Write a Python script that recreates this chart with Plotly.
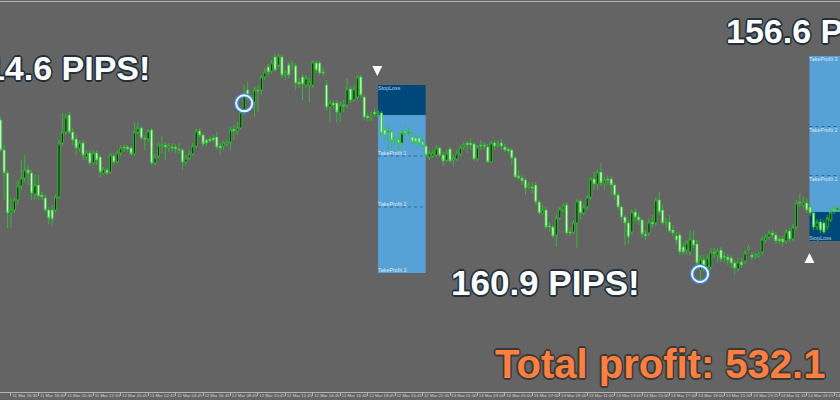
import plotly.graph_objects as go

# ---------------- OHLC data (M15 bars, price in pips above a base level) ----------------
bar_open = [280,250,227,187,190,200,214,222,230,227,206,215,205,202,190,190,190,203,257,268,
            285,268,261,252,257,243,247,237,247,243,227,230,228,244,238,247,253,253,252,246,
            268,272,262,261,270,237,244,254,255,252,253,253,251,250,238,242,246,254,269,265,
            260,261,262,263,254,254,256,258,271,269,272,288,310,302,298,310,310,323,333,329,
            343,335,343,325,335,335,334,318,323,315,315,315,337,337,328,315,293,297,297,287,
            295,295,311,300,303,323,303,284,282,288,286,287,270,268,268,261,260,257,269,267,
            263,262,262,258,254,243,244,245,252,245,240,251,240,241,246,253,257,257,256,241,
            255,255,253,238,257,254,257,253,251,250,242,224,222,220,213,213,215,198,187,190,
            174,173,165,182,191,195,168,168,177,199,187,193,203,221,216,228,217,221,221,215,
            205,193,183,177,168,188,183,180,166,167,178,177,200,190,177,178,170,164,165,153,
            150,148,160,156,130,140,133,133,148,145,150,144,143,142,137,131,138,139,151,145,
            143,144,148,160,163,167,165,161,161,159,169,161,173,198,195,197,193,187,173,178,
            177,173,180,191,190]
bar_high = [283,255,230,202,203,220,240,245,235,230,225,225,208,206,193,195,205,260,287,287,
            288,272,265,260,260,250,250,250,250,245,233,232,247,246,250,255,256,255,254,277,
            278,274,265,271,272,246,258,264,258,257,257,256,257,252,245,250,257,271,272,267,
            262,263,265,268,257,259,261,273,275,278,291,315,318,305,313,315,325,332,336,340,
            346,347,345,330,338,340,337,322,326,325,322,340,340,339,332,320,300,300,300,298,
            300,322,314,315,325,325,305,287,288,292,290,289,273,275,271,264,268,270,275,272,
            269,265,265,261,257,250,250,255,254,248,250,253,245,250,255,258,259,262,258,255,
            260,258,256,259,259,260,261,256,253,252,244,230,225,222,218,218,218,200,195,193,
            178,175,185,193,197,198,172,180,201,201,196,205,223,228,230,237,223,224,224,217,
            207,195,185,180,191,192,187,182,170,182,185,203,208,195,182,185,175,168,168,157,
            160,170,170,160,145,145,146,152,152,152,153,148,146,145,140,142,142,150,155,148,
            147,148,163,166,170,170,168,164,164,171,172,176,200,207,204,202,197,190,181,181,
            180,185,192,194,195]
bar_low = [248,200,172,172,187,195,210,218,215,200,200,200,200,188,176,174,187,201,254,265,
           266,255,245,248,240,240,234,235,235,223,225,225,226,235,236,244,248,248,244,244,
           266,260,250,258,235,234,242,247,240,248,248,247,246,230,235,240,244,252,263,253,
           254,257,258,251,245,250,253,250,260,265,270,285,300,290,283,288,305,320,325,326,
           328,333,322,320,322,330,310,312,300,312,297,312,327,325,324,290,277,292,278,278,
           288,292,297,298,300,302,280,279,279,283,283,264,260,250,250,255,248,250,264,264,
           255,255,254,252,242,240,242,242,243,234,238,237,233,239,244,250,247,250,239,238,
           250,251,237,237,250,252,250,248,247,235,222,220,215,205,211,207,195,185,185,171,
           168,162,153,180,188,165,164,166,152,180,185,190,200,210,210,214,210,215,205,200,
           190,180,155,156,165,178,175,162,160,164,172,174,185,175,172,167,164,155,145,145,
           145,144,152,135,118,128,130,130,142,138,138,138,135,132,125,128,132,136,149,140,
           141,142,145,157,160,162,156,156,153,156,158,158,170,193,192,187,184,170,170,167,
           166,170,178,186,188]
bar_close = [250,227,187,190,200,214,222,230,227,207,215,204,203,190,182,181,203,257,268,283,
             268,260,252,257,245,247,237,247,240,228,231,227,245,238,247,252,252,251,246,268,
             272,262,261,269,237,243,255,255,253,254,252,251,250,238,242,246,254,269,265,256,
             257,259,260,253,252,257,258,270,269,272,288,307,302,298,310,309,323,328,328,337,
             330,344,325,327,325,336,317,316,316,322,318,338,330,327,327,293,297,295,288,295,
             294,311,300,311,323,305,283,282,284,286,288,267,265,269,260,260,257,267,267,268,
             258,258,257,255,245,247,247,252,245,239,247,239,242,247,252,255,255,255,241,253,
             254,254,238,257,254,256,254,250,249,242,223,222,219,212,215,212,198,187,190,173,
             173,164,182,191,194,167,167,177,199,187,193,203,221,216,228,217,220,220,215,205,
             193,183,177,163,188,183,180,166,164,178,176,200,188,177,178,169,167,160,148,148,
             157,161,155,137,141,133,142,148,147,149,141,143,140,137,132,138,135,147,153,143,
             145,146,161,163,167,165,159,159,158,168,161,173,197,197,198,190,187,173,178,170,
             168,182,188,189,192]
bar_index = list(range(len(bar_open)))

# ---------------- time axis labels (bar index of each label) ----------------
tick_bars = [3, 11, 19, 27, 35, 43, 51, 59, 67, 75, 83, 91, 99, 107, 115, 123,
             131, 139, 147, 155, 163, 171, 179, 187, 195, 203, 211, 219, 227, 235, 243]
tick_labels = ["11 Mar 16:30", "11 Mar 18:30", "11 Mar 20:30", "11 Mar 22:30",
               "12 Mar 00:45", "12 Mar 02:45", "12 Mar 04:45", "12 Mar 06:45",
               "12 Mar 08:45", "12 Mar 10:45", "12 Mar 12:45", "12 Mar 14:45",
               "12 Mar 16:45", "12 Mar 18:45", "12 Mar 20:45", "12 Mar 22:45",
               "13 Mar 01:00", "13 Mar 03:00", "13 Mar 05:00", "13 Mar 07:00",
               "13 Mar 09:00", "13 Mar 11:00", "13 Mar 13:00", "13 Mar 15:00",
               "13 Mar 17:00", "13 Mar 19:00", "13 Mar 21:00", "13 Mar 23:15",
               "14 Mar 01:15", "14 Mar 03:15", "14 Mar 05:15"]
prev_label_bar = -5
prev_label = "11 Mar 14:30"

# ---------------- trades ----------------
sell_bars = [110, 123.9]
sell_entry = 285
sell_sl = 315
sell_tps = [244, 193, 127]

buy_bars = [235.8, 252]
buy_entry = 188
buy_sl = 159
buy_tps = [224.5, 273.5, 344]

entry_bars = [71, 203.9]
entry_prices = [296.7, 126]

results = ["214.6 PIPS!", "160.9 PIPS!", "156.6 PIPS!"]
total_text = "Total profit: 532.1"

BG = "#646464"
SL_COL = "#00487a"
TP_COL = "#56a1d6"

fig = go.Figure(go.Candlestick(
    x=bar_index, open=bar_open, high=bar_high, low=bar_low, close=bar_close,
    increasing=dict(line=dict(color="#30c830", width=0.8), fillcolor="#062a06"),
    decreasing=dict(line=dict(color="#30c830", width=0.8), fillcolor="#d2fdd2"),
    whiskerwidth=0, hoverinfo="skip", showlegend=False))

shapes = []
# sell box
shapes.append(dict(type="rect", xref="x", yref="y", x0=sell_bars[0], x1=sell_bars[1],
                   y0=sell_entry, y1=sell_sl, fillcolor=SL_COL, line=dict(width=0), layer="below"))
shapes.append(dict(type="rect", xref="x", yref="y", x0=sell_bars[0], x1=sell_bars[1],
                   y0=sell_tps[2], y1=sell_entry, fillcolor=TP_COL, line=dict(width=0), layer="below"))
for tp in sell_tps[:2]:
    shapes.append(dict(type="line", xref="x", yref="y", x0=sell_bars[0], x1=sell_bars[1],
                       y0=tp, y1=tp, line=dict(color="rgba(60,95,130,0.9)", width=1, dash="dot"),
                       layer="below"))
# buy box
shapes.append(dict(type="rect", xref="x", yref="y", x0=buy_bars[0], x1=buy_bars[1],
                   y0=buy_sl, y1=buy_entry, fillcolor=SL_COL, line=dict(width=0), layer="below"))
shapes.append(dict(type="rect", xref="x", yref="y", x0=buy_bars[0], x1=buy_bars[1],
                   y0=buy_entry, y1=buy_tps[2], fillcolor=TP_COL, line=dict(width=0), layer="below"))
for tp in buy_tps[:2]:
    shapes.append(dict(type="line", xref="x", yref="y", x0=buy_bars[0], x1=buy_bars[1],
                       y0=tp, y1=tp, line=dict(color="rgba(60,95,130,0.9)", width=1, dash="dot"),
                       layer="below"))
# entry circles
for bx, py in zip(entry_bars, entry_prices):
    shapes.append(dict(type="circle", xref="x", yref="y", xsizemode="pixel", ysizemode="pixel",
                       xanchor=bx, yanchor=py, x0=-8, x1=8, y0=-8, y1=8,
                       line=dict(color="#3c86d2", width=4.5), layer="above"))
    shapes.append(dict(type="circle", xref="x", yref="y", xsizemode="pixel", ysizemode="pixel",
                       xanchor=bx, yanchor=py, x0=-8, x1=8, y0=-8, y1=8,
                       line=dict(color="#eef7ff", width=2), layer="above"))

lbl_font_tp = dict(family="Liberation Sans", size=5.4, color="#dde9f4")
lbl_font_sl = dict(family="Liberation Sans", size=5.4, color="#b4cde3")
ann = []
def box_label(text, bx, price, anchor, font):
    ann.append(dict(text=text, x=bx, y=price, xref="x", yref="y", xanchor="left",
                    yanchor=anchor, xshift=0, showarrow=False, font=font,
                    borderpad=0, borderwidth=0))

box_label("StopLoss", sell_bars[0], sell_sl, "top", lbl_font_sl)
box_label("TakeProfit 1", sell_bars[0], sell_tps[0], "bottom", lbl_font_tp)
box_label("TakeProfit 2", sell_bars[0], sell_tps[1], "bottom", lbl_font_tp)
box_label("TakeProfit 3", sell_bars[0], sell_tps[2], "bottom", lbl_font_tp)
box_label("TakeProfit 3", buy_bars[0], buy_tps[2], "top", lbl_font_tp)
box_label("TakeProfit 2", buy_bars[0], buy_tps[1], "top", lbl_font_tp)
box_label("TakeProfit 1", buy_bars[0], buy_tps[0], "top", lbl_font_tp)
box_label("StopLoss", buy_bars[0], buy_sl, "bottom", lbl_font_sl)

# signal arrows
ann.append(dict(x=sell_bars[0] - 0.2, y=sell_sl + 9, xref="x", yref="y", ax=0, ay=-10,
                showarrow=True, arrowhead=2, arrowsize=0.9, arrowwidth=2.2, arrowcolor="white", text=""))
ann.append(dict(x=buy_bars[0], y=buy_sl - 12, xref="x", yref="y", ax=0, ay=10,
                showarrow=True, arrowhead=2, arrowsize=0.9, arrowwidth=2.2, arrowcolor="white", text=""))

def outline(c, w=1.6):
    return (f"{w}px 0 {c}, -{w}px 0 {c}, 0 {w}px {c}, 0 -{w}px {c}, "
            f"{w*0.7:.2f}px {w*0.7:.2f}px {c}, -{w*0.7:.2f}px {w*0.7:.2f}px {c}, "
            f"{w*0.7:.2f}px -{w*0.7:.2f}px {c}, -{w*0.7:.2f}px -{w*0.7:.2f}px {c}")

big_white = dict(family="Liberation Sans", size=34, color="#ffffff", weight="bold",
                 shadow=outline("#22303e"))
big_white2 = dict(family="Liberation Sans", size=35, color="#ffffff", weight="bold",
                  shadow=outline("#22303e"))
big_orange = dict(family="Liberation Sans", size=40, color="#ff7f40", weight="bold",
                  shadow=outline("#3a3a3a"))
ann.append(dict(text=results[0], x=0.181, y=0.8308, xref="paper", yref="paper",
                xanchor="right", yanchor="middle", showarrow=False, font=big_white))
ann.append(dict(text=results[1], x=0.5345, y=0.2795, xref="paper", yref="paper",
                xanchor="left", yanchor="middle", showarrow=False, font=big_white2))
ann.append(dict(text=results[2], x=0.8615, y=0.9262, xref="paper", yref="paper",
                xanchor="left", yanchor="middle", showarrow=False, font=big_white))
ann.append(dict(text=total_text, x=0.786, y=0.0726, xref="paper", yref="paper",
                xanchor="center", yanchor="middle", showarrow=False, font=big_orange))

tick_font = dict(family="Liberation Sans", size=4.3, color="#d2d2d2")
ann.append(dict(text=prev_label, x=prev_label_bar, y=0, xref="x", yref="paper",
                xanchor="left", yanchor="top", xshift=1.5, yshift=-1, showarrow=False,
                font=tick_font, borderpad=0, borderwidth=0))

fig.update_layout(
    width=840, height=400,
    margin=dict(l=0, r=0, t=2, b=8, autoexpand=False),
    paper_bgcolor=BG, plot_bgcolor=BG,
    boxgap=0.12,
    showlegend=False,
    shapes=shapes, annotations=ann,
    xaxis=dict(range=[-0.2, 244.7], showgrid=False, zeroline=False, showline=True,
               linecolor="#b4b4b4", linewidth=1, mirror=True, automargin=False,
               ticks="outside", ticklen=3, tickcolor="#b4b4b4", tickwidth=1, tickangle=0,
               tickvals=tick_bars, ticktext=tick_labels, tickfont=tick_font,
               ticklabelshift=14, ticklabelstandoff=-4, ticklabeloverflow="allow",
               rangeslider=dict(visible=False), fixedrange=True),
    yaxis=dict(range=[8, 398], visible=False, showgrid=False, fixedrange=True,
               automargin=False),
)

fig.write_html("out.html", config={"displayModeBar": False, "staticPlot": True},
               post_script="document.body.style.margin='0';document.body.style.overflow='hidden';"
                           "document.body.style.background='" + BG + "';")
